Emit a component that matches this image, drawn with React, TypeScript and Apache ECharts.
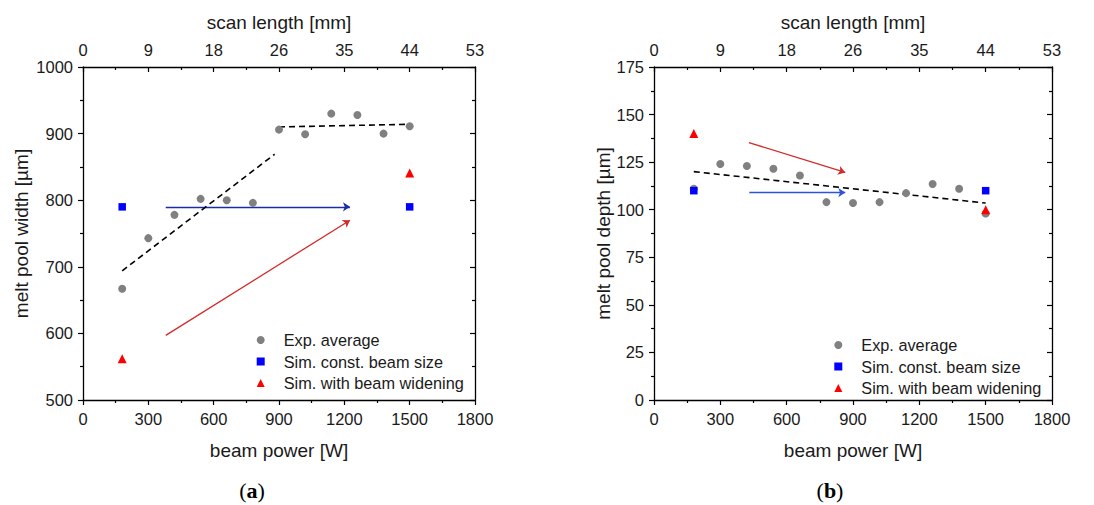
import React, { useEffect, useRef } from "react";
import * as echarts from "echarts";

// ---- data ----
const powerTicks = [0, 300, 600, 900, 1200, 1500, 1800];
const scanLengthLabels = ["0", "9", "18", "26", "35", "44", "53"];

const powerExp = [180, 300, 420, 540, 660, 780, 900, 1020, 1140, 1260, 1380, 1500];
const widthExp = [667, 743, 778, 802, 800, 796, 906, 899, 930, 928, 900, 911];
const depthExp = [111, 124, 123, 121.5, 118, 104, 103.5, 104, 108.7, 113.5, 111, 98];

const powerSim = [180, 1500];
const widthSimConst = [790, 790];
const widthSimWiden = [562, 841];
const depthSimConst = [110, 110];
const depthSimWiden = [140, 100];

const widthFitLowX = [180, 880];
const widthFitLowY = [694, 869];
const widthFitHighX = [900, 1500];
const widthFitHighY = [910, 914];
const depthFitX = [180, 1500];
const depthFitY = [120, 103.5];

const widthArrowConst = [[380, 790], [1226, 790]];
const widthArrowWiden = [[380, 597], [1226, 770]];
const depthArrowConst = [[431, 109], [865, 109]];
const depthArrowWiden = [[429, 135.3], [865, 119.6]];

const seriesNames = ["Exp. average", "Sim. const. beam size", "Sim. with beam widening"];

const FONT = "Liberation Sans, Arial, sans-serif";
const TXT = "#1a1a1a";

const zip = (xs: number[], ys: number[]) => xs.map((x, i) => [x, ys[i]]);
const plain = (v: number) => String(v);

function bottomX(grid: number) {
  return {
    type: "value", gridIndex: grid, position: "bottom", min: 0, max: 1800, interval: 300,
    name: "beam power [W]", nameLocation: "middle", nameGap: 41,
    nameTextStyle: { fontFamily: FONT, fontSize: 19, color: TXT },
    axisLine: { show: true, onZero: false, lineStyle: { color: "#000", width: 1.3 } },
    axisTick: { show: true, inside: false, length: 5, lineStyle: { color: "#000", width: 1.2 } },
    minorTick: { show: true, splitNumber: 2, length: 3, lineStyle: { color: "#000", width: 1.2 } },
    axisLabel: { fontFamily: FONT, fontSize: 16.5, color: TXT, margin: 10, formatter: plain },
    splitLine: { show: false },
  };
}
function topX(grid: number) {
  return {
    type: "value", gridIndex: grid, position: "top", min: 0, max: 1800, interval: 300,
    name: "scan length [mm]", nameLocation: "middle", nameGap: 35,
    nameTextStyle: { fontFamily: FONT, fontSize: 19, color: TXT },
    axisLine: { show: true, onZero: false, lineStyle: { color: "#000", width: 1.3 } },
    axisTick: { show: true, inside: true, length: 5, lineStyle: { color: "#000", width: 1.2 } },
    minorTick: { show: true, splitNumber: 2, length: 3, lineStyle: { color: "#000", width: 1.2 } },
    axisLabel: {
      fontFamily: FONT, fontSize: 16.5, color: TXT, margin: 9,
      formatter: (v: number) => scanLengthLabels[powerTicks.indexOf(v)] ?? "",
    },
    splitLine: { show: false },
  };
}
function leftY(grid: number, min: number, max: number, interval: number, name: string, gap: number) {
  return {
    type: "value", gridIndex: grid, position: "left", min, max, interval,
    name, nameLocation: "middle", nameGap: gap,
    nameTextStyle: { fontFamily: FONT, fontSize: 19, color: TXT },
    axisLine: { show: true, onZero: false, lineStyle: { color: "#000", width: 1.3 } },
    axisTick: { show: true, inside: false, length: 5, lineStyle: { color: "#000", width: 1.2 } },
    minorTick: { show: true, splitNumber: 2, length: 3, lineStyle: { color: "#000", width: 1.2 } },
    axisLabel: { fontFamily: FONT, fontSize: 16.5, color: TXT, margin: 10, formatter: plain },
    splitLine: { show: false },
  };
}
function rightY(grid: number, min: number, max: number, interval: number) {
  return {
    type: "value", gridIndex: grid, position: "right", min, max, interval,
    axisLine: { show: true, onZero: false, lineStyle: { color: "#000", width: 1.3 } },
    axisTick: { show: true, inside: true, length: 5, lineStyle: { color: "#000", width: 1.2 } },
    minorTick: { show: true, splitNumber: 2, length: 3, lineStyle: { color: "#000", width: 1.2 } },
    axisLabel: { show: false },
    splitLine: { show: false },
  };
}

function dashed(xi: number, yi: number, xs: number[], ys: number[]) {
  return {
    type: "line", xAxisIndex: xi, yAxisIndex: yi, data: zip(xs, ys), showSymbol: false, symbol: "none",
    lineStyle: { color: "#000", width: 1.6, type: [6, 4] }, silent: true, z: 2,
  };
}
function arrow(xi: number, yi: number, coords: number[][], color: string) {
  return {
    type: "lines", coordinateSystem: "cartesian2d", xAxisIndex: xi, yAxisIndex: yi,
    data: [{ coords }], symbol: ["none", "arrow"], symbolSize: 7,
    lineStyle: { color, width: 1.3, opacity: 1, curveness: 0 }, silent: true, z: 2,
  };
}
function markers(xi: number, yi: number, exp: number[], cst: number[], wid: number[]) {
  return [
    { type: "scatter", name: seriesNames[0], xAxisIndex: xi, yAxisIndex: yi, data: zip(powerExp, exp),
      symbol: "circle", symbolSize: 8, itemStyle: { color: "#808080", opacity: 1 }, z: 3 },
    { type: "scatter", name: seriesNames[1], xAxisIndex: xi, yAxisIndex: yi, data: zip(powerSim, cst),
      symbol: "rect", symbolSize: 7.5, itemStyle: { color: "#0000ff", opacity: 1 }, z: 4 },
    { type: "scatter", name: seriesNames[2], xAxisIndex: xi, yAxisIndex: yi, data: zip(powerSim, wid),
      symbol: "triangle", symbolSize: 9, itemStyle: { color: "#ff0000", opacity: 1 }, z: 5 },
  ];
}
function legend(left: number, top: number) {
  return {
    orient: "vertical", left, top, itemWidth: 8, itemHeight: 8, itemGap: 5.5,
    selectedMode: false,
    data: [
      { name: seriesNames[0], icon: "circle", itemStyle: { opacity: 1 } },
      { name: seriesNames[1], icon: "rect", itemStyle: { opacity: 1 } },
      { name: seriesNames[2], icon: "triangle", itemStyle: { opacity: 1 } },
    ],
    textStyle: { fontFamily: FONT, fontSize: 16.3, color: TXT, lineHeight: 16, padding: [0, 0, 0, 14] },
  };
}
function caption(x: number, letter: string) {
  return {
    type: "text", x, y: 490,
    style: {
      text: `{n|(}{b|${letter}}{n|)}`, align: "center", verticalAlign: "middle",
      rich: {
        n: { fontFamily: "Liberation Serif, serif", fontSize: 22, fill: "#000" },
        b: { fontFamily: "Liberation Serif, serif", fontSize: 22, fontWeight: "bold", fill: "#000" },
      },
    },
  };
}

export default function App() {
  const ref = useRef<HTMLDivElement>(null);
  useEffect(() => {
    if (!ref.current) return;
    const chart = echarts.init(ref.current, undefined, { renderer: "svg" });
    chart.setOption({
      animation: false,
      backgroundColor: "#fff",
      grid: [
        { left: 83, top: 67, width: 392, height: 333 },
        { left: 654, top: 67, width: 398, height: 333 },
      ],
      xAxis: [bottomX(0), topX(0), bottomX(1), topX(1)],
      yAxis: [
        leftY(0, 500, 1000, 100, "melt pool width [µm]", 52),
        rightY(0, 500, 1000, 100),
        leftY(1, 0, 175, 25, "melt pool depth [µm]", 41),
        rightY(1, 0, 175, 25),
      ],
      legend: [legend(251.7, 327), legend(829.3, 332)],
      series: [
        dashed(0, 0, widthFitLowX, widthFitLowY),
        dashed(0, 0, widthFitHighX, widthFitHighY),
        arrow(0, 0, widthArrowConst, "#1c2ca8"),
        arrow(0, 0, widthArrowWiden, "#d42a2a"),
        ...markers(0, 0, widthExp, widthSimConst, widthSimWiden),
        dashed(2, 2, depthFitX, depthFitY),
        arrow(2, 2, depthArrowConst, "#3050e0"),
        arrow(2, 2, depthArrowWiden, "#d42a2a"),
        ...markers(2, 2, depthExp, depthSimConst, depthSimWiden),
      ],
      graphic: [caption(252, "a"), caption(830, "b")],
    });
    return () => chart.dispose();
  }, []);
  return (
    <div
      ref={ref}
      style={{ position: "fixed", left: 0, top: 0, width: 1094, height: 505, background: "#fff" }}
    />
  );
}
